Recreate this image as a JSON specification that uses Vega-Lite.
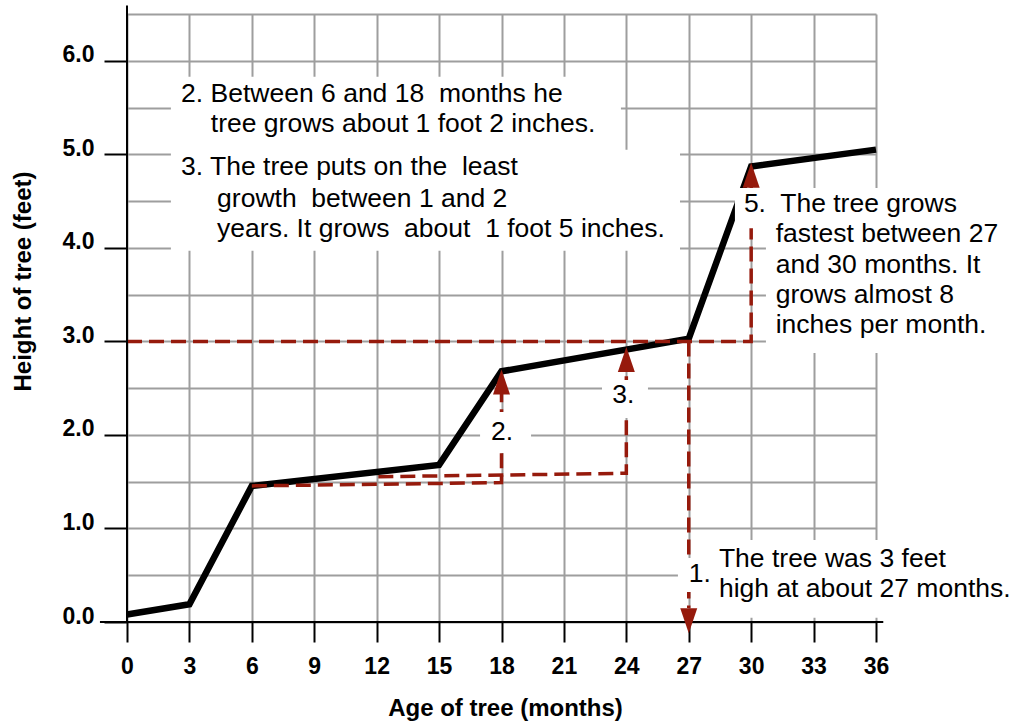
{
  "$schema": "https://vega.github.io/schema/vega-lite/v6.json",
  "width": 749,
  "height": 608,
  "autosize": {"type": "none"},
  "padding": {"left": 127, "top": 14, "right": 140, "bottom": 99},
  "background": "white",
  "config": {"view": {"stroke": null}, "font": "Liberation Sans"},
  "datasets": {
    "curve": [
      {"x": 0, "y": 0.08}, {"x": 3, "y": 0.19}, {"x": 6, "y": 1.455}, {"x": 15, "y": 1.68},
      {"x": 18, "y": 2.68}, {"x": 27, "y": 3.03}, {"x": 30, "y": 4.87}, {"x": 36, "y": 5.05}
    ],
    "guides": [
      {"seg": "a", "o": 1, "x": 0, "y": 3.0}, {"seg": "a", "o": 2, "x": 30, "y": 3.0}, {"seg": "a", "o": 3, "x": 30, "y": 4.66},
      {"seg": "b", "o": 1, "x": 27, "y": 3.0}, {"seg": "b", "o": 2, "x": 27, "y": 0.15},
      {"seg": "c", "o": 1, "x": 6, "y": 1.455}, {"seg": "c", "o": 2, "x": 18, "y": 1.49}, {"seg": "c", "o": 3, "x": 18, "y": 2.45},
      {"seg": "d", "o": 1, "x": 12.08, "y": 1.553}, {"seg": "d", "o": 2, "x": 24, "y": 1.59}, {"seg": "d", "o": 3, "x": 24, "y": 2.68}
    ],
    "boxes": [
      {"x": 2.11, "x2": 23.74, "y": 5.83, "y2": 5.04},
      {"x": 2.11, "x2": 26.58, "y": 5.05, "y2": 3.97},
      {"x": 29.22, "x2": 41.5, "y": 4.64, "y2": 4.21},
      {"x": 30.71, "x2": 41.5, "y": 4.22, "y2": 2.876},
      {"x": 27.78, "x2": 42.5, "y": 0.877, "y2": 0.045},
      {"x": 26.48, "x2": 28.3, "y": 0.684, "y2": 0.321},
      {"x": 16.97, "x2": 19.42, "y": 2.245, "y2": 1.807},
      {"x": 22.83, "x2": 25.04, "y": 2.587, "y2": 2.181}
    ],
    "axes": [
      {"x": -1.3, "x2": 36.35, "y": 0, "y2": 0},
      {"x": 0, "x2": 0, "y": 0, "y2": 6.59}
    ],
    "arrows": [
      {"x": 18, "y": 2.7, "dir": "up"},
      {"x": 24, "y": 2.94, "dir": "up"},
      {"x": 30, "y": 4.91, "dir": "up"},
      {"x": 27, "y": -0.12, "dir": "down"}
    ],
    "notes": [
      {"x": 2.6, "y": 5.559, "t": "2. Between 6 and 18\u00a0 months he"},
      {"x": 4.03, "y": 5.238, "t": "tree grows about 1 foot 2 inches."},
      {"x": 2.6, "y": 4.779, "t": "3. The tree puts on the\u00a0 least"},
      {"x": 4.33, "y": 4.437, "t": "growth\u00a0 between 1 and 2"},
      {"x": 4.33, "y": 4.116, "t": "years. It grows\u00a0 about\u00a0 1 foot 5 inches."},
      {"x": 29.65, "y": 4.383, "t": "5.\u00a0 The tree grows"},
      {"x": 31.18, "y": 4.062, "t": "fastest between 27"},
      {"x": 31.18, "y": 3.731, "t": "and 30 months. It"},
      {"x": 31.18, "y": 3.41, "t": "grows almost 8"},
      {"x": 31.18, "y": 3.09, "t": "inches per month."},
      {"x": 28.45, "y": 0.588, "t": "The tree was 3 feet"},
      {"x": 28.45, "y": 0.267, "t": "high at about 27 months."},
      {"x": 27.0, "y": 0.428, "t": "1."},
      {"x": 17.5, "y": 1.946, "t": "2."},
      {"x": 23.32, "y": 2.341, "t": "3."}
    ]
  },
  "encoding": {
    "x": {
      "field": "x", "type": "quantitative",
      "scale": {"domain": [0, 36], "nice": false, "zero": false},
      "axis": {
        "title": "Age of tree (months)",
        "values": [0, 3, 6, 9, 12, 15, 18, 21, 24, 27, 30, 33, 36],
        "domain": false,
        "grid": true, "gridColor": "#9e9e9e", "gridWidth": 2,
        "ticks": true, "tickColor": "black", "tickWidth": 2, "tickSize": 20,
        "labelFont": "Liberation Sans", "labelFontSize": 23, "labelFontWeight": "bold", "labelColor": "black",
        "labelPadding": 13, "labelBaseline": "top", "labelFlush": false, "labelOverlap": false,
        "titleFont": "Liberation Sans", "titleFontSize": 24, "titleFontWeight": "bold", "titleColor": "black",
        "titleX": 378, "titleY": 93, "titleAlign": "center", "titleBaseline": "alphabetic"
      }
    },
    "y": {
      "field": "y", "type": "quantitative",
      "scale": {"domain": [0, 6.5], "nice": false, "zero": false},
      "axis": {
        "title": "Height of tree (feet)",
        "values": [0, 0.5, 1, 1.5, 2, 2.5, 3, 3.5, 4, 4.5, 5, 5.5, 6, 6.5],
        "domain": false,
        "grid": true, "gridColor": "#9e9e9e", "gridWidth": 2,
        "ticks": true, "tickColor": "black", "tickWidth": 2, "tickSize": 23,
        "tickOpacity": {"condition": {"test": "datum.value % 1 !== 0", "value": 0}, "value": 1},
        "labelExpr": "datum.value % 1 === 0 ? format(datum.value, '.1f') : ''",
        "labelFont": "Liberation Sans", "labelFontSize": 23, "labelFontWeight": "bold", "labelColor": "black",
        "labelPadding": 10, "labelOffset": -6, "labelOverlap": false, "labelFlush": false,
        "titleFont": "Liberation Sans", "titleFontSize": 24, "titleFontWeight": "bold", "titleColor": "black",
        "titleAngle": 270, "titleX": -97, "titleY": 267, "titleAlign": "center", "titleBaseline": "alphabetic"
      }
    }
  },
  "layer": [
    {
      "data": {"name": "curve"},
      "mark": {"type": "line", "color": "black", "strokeWidth": 6.5, "strokeJoin": "miter", "strokeCap": "butt"},
      "encoding": {}
    },
    {
      "data": {"name": "guides"},
      "mark": {"type": "line", "color": "#961a0c", "strokeWidth": 3.5, "strokeDash": [15, 7], "strokeCap": "butt"},
      "encoding": {"detail": {"field": "seg"}, "order": {"field": "o", "type": "quantitative"}}
    },
    {
      "data": {"name": "boxes"},
      "mark": {"type": "rect", "color": "white", "opacity": 1},
      "encoding": {"x2": {"field": "x2"}, "y2": {"field": "y2"}}
    },
    {
      "data": {"name": "axes"},
      "mark": {"type": "rule", "color": "black", "strokeWidth": 2},
      "encoding": {"x2": {"field": "x2"}, "y2": {"field": "y2"}}
    },
    {
      "data": {"name": "arrows"},
      "mark": {"type": "point", "filled": true, "opacity": 1, "color": "#961a0c", "size": 625, "strokeWidth": 0},
      "encoding": {
        "shape": {
          "field": "dir", "type": "nominal",
          "scale": {"domain": ["up", "down"], "range": ["M0,0L0.68,2L-0.68,2Z", "M0,0L0.68,-2L-0.68,-2Z"]},
          "legend": null
        }
      }
    },
    {
      "data": {"name": "notes"},
      "mark": {"type": "text", "align": "left", "baseline": "alphabetic", "font": "Liberation Sans", "fontSize": 26.5, "color": "black"},
      "encoding": {"text": {"field": "t"}}
    }
  ]
}
